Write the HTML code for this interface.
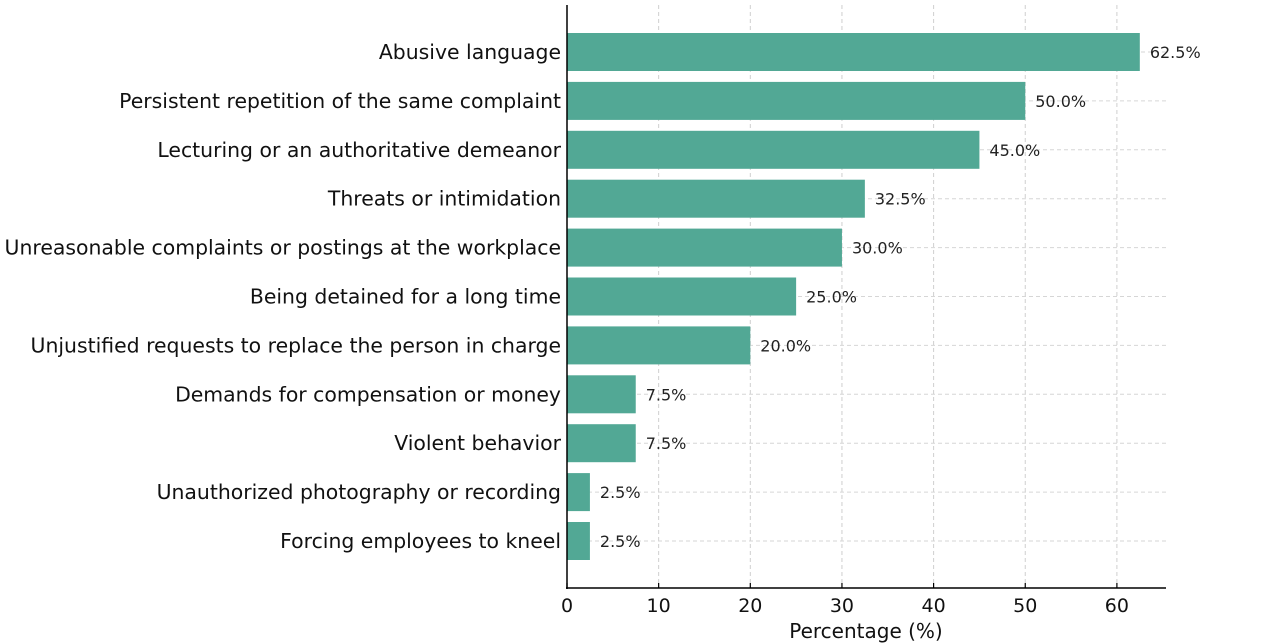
<!DOCTYPE html>
<html><head><meta charset="utf-8"><style>
html,body{margin:0;padding:0;background:#fff;}
svg{display:block;font-family:"DejaVu Sans","Liberation Sans",sans-serif;}
</style></head><body>
<svg id="chart" width="1280" height="644"></svg>
<script>
const categories = ["Abusive language","Persistent repetition of the same complaint","Lecturing or an authoritative demeanor","Threats or intimidation","Unreasonable complaints or postings at the workplace","Being detained for a long time","Unjustified requests to replace the person in charge","Demands for compensation or money","Violent behavior","Unauthorized photography or recording","Forcing employees to kneel"];
const values = [62.5,50.0,45.0,32.5,30.0,25.0,20.0,7.5,7.5,2.5,2.5];
const valueLabels = ["62.5%","50.0%","45.0%","32.5%","30.0%","25.0%","20.0%","7.5%","7.5%","2.5%","2.5%"];
const xTicks = [0,10,20,30,40,50,60];
const xTickLabels = ["0","10","20","30","40","50","60"];

const svg = document.getElementById('chart');
const NS = 'http://www.w3.org/2000/svg';
const x0 = 567, pxPerUnit = 9.165, xMaxPx = 1166;
const axisY = 588, topY = 5;
const y0 = 52, step = 48.9, barH = 38;
const xScale = v => x0 + v * pxPerUnit;
const yScale = i => y0 + i * step;
function mk(tag, attrs){const e=document.createElementNS(NS,tag);for(const k in attrs)e.setAttribute(k,attrs[k]);svg.appendChild(e);return e;}

xTicks.forEach((t,i)=>{
  if(t===0) return;
  const g = mk('line',{x1:xScale(t),x2:xScale(t),y1:topY,y2:axisY,stroke:'#cfcfcf','stroke-dasharray':'4,3','stroke-width':1});
  
  
});
categories.forEach((c,i)=>{
  const g = mk('line',{x1:x0,x2:xMaxPx,y1:yScale(i),y2:yScale(i),stroke:'#d6d6d6','stroke-dasharray':'4,3','stroke-width':1});
  
  
});
categories.forEach((c,i)=>{
  const b = mk('rect',{x:x0,y:yScale(i)-barH/2,width:xScale(values[i])-x0,height:barH,fill:'#52a895'});
  
  
  const l = mk('text',{x:xScale(values[i])+10,y:yScale(i)+6,'font-size':16,fill:'#222'});
  l.textContent = valueLabels[i];
  
  
  const t = mk('text',{x:561,y:yScale(i)+7,'font-size':20.4,fill:'#111','text-anchor':'end'});
  t.textContent = c;
  
  
});
const ya = mk('line',{x1:x0,x2:x0,y1:topY,y2:axisY+1,stroke:'#000','stroke-width':1.5});


const xa = mk('line',{x1:x0-1,x2:xMaxPx,y1:axisY,y2:axisY,stroke:'#000','stroke-width':1.5});


xTicks.forEach((t,i)=>{
  const tk = mk('line',{x1:xScale(t),x2:xScale(t),y1:axisY-5,y2:axisY,stroke:'#000','stroke-width':1.2});
  
  
  const tl = mk('text',{x:xScale(t),y:axisY+24,'font-size':19,fill:'#111','text-anchor':'middle'});
  tl.textContent = xTickLabels[i];
  
  
});
const xt = mk('text',{x:866,y:638,'font-size':20,fill:'#111','text-anchor':'middle'});
xt.textContent = 'Percentage (%)';


</script>
</body></html>
